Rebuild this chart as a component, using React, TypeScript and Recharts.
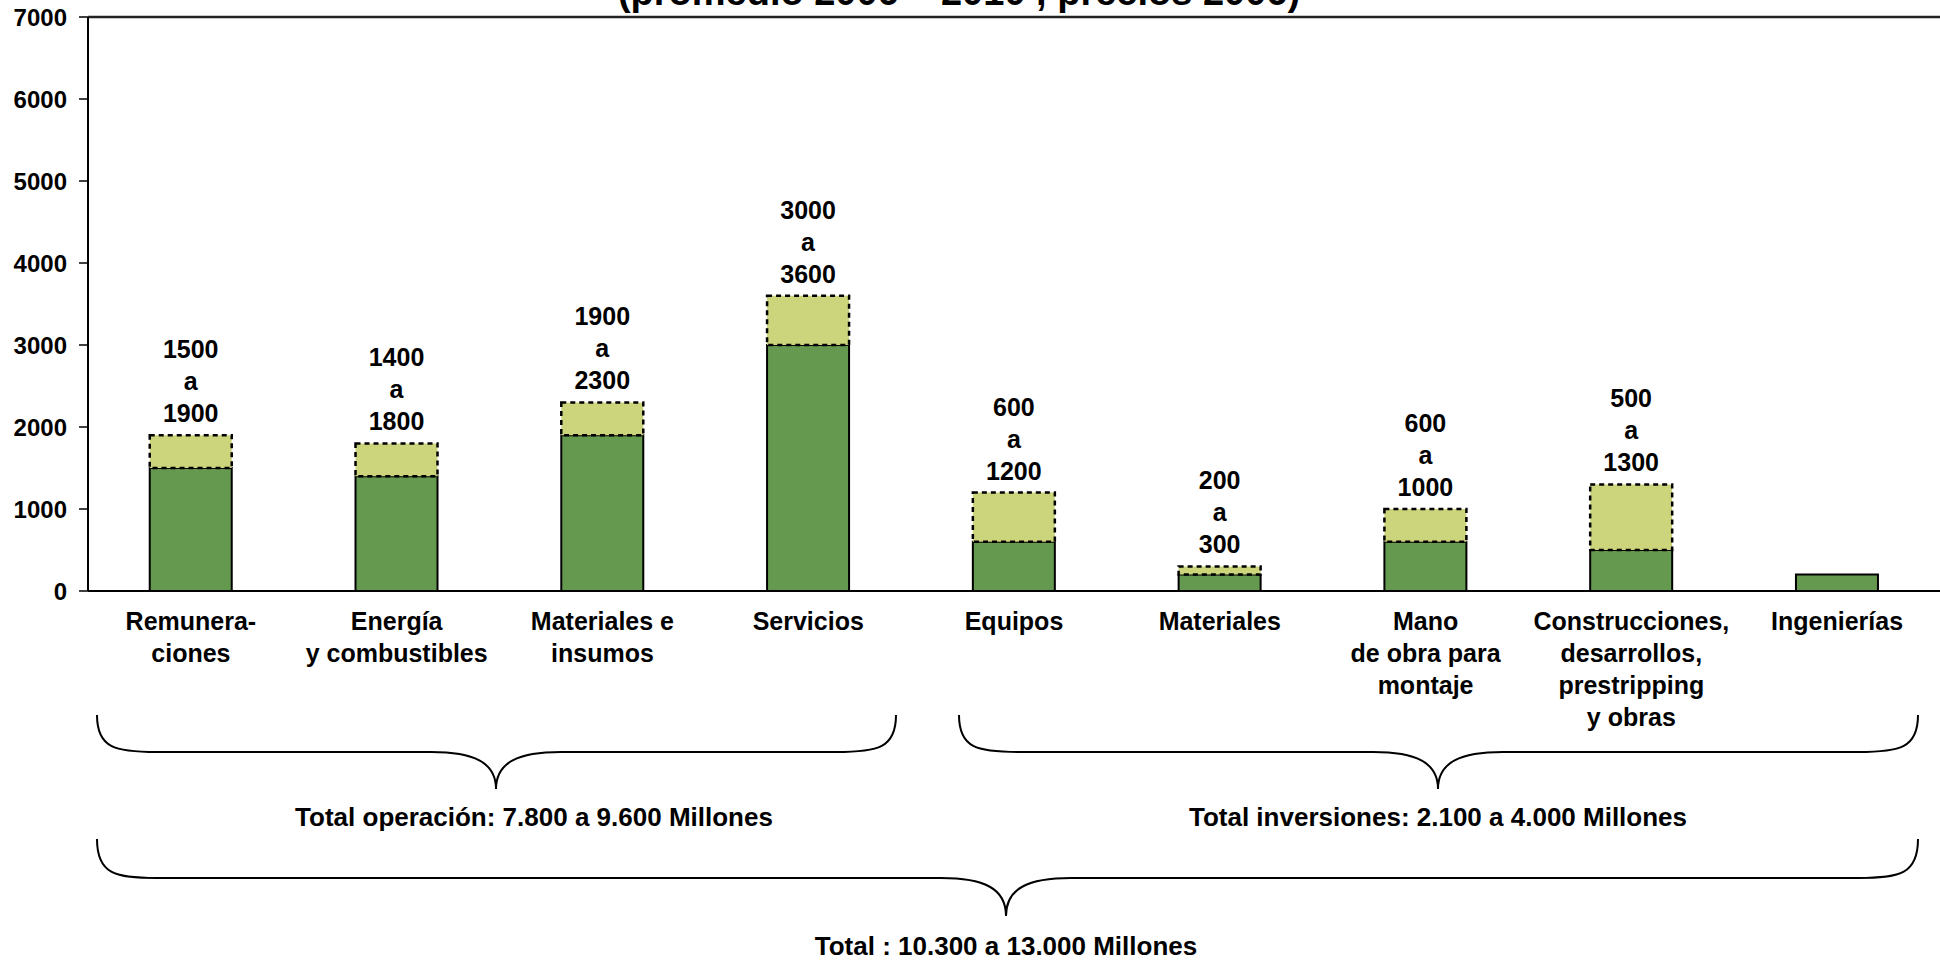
import React from "react";
import { BarChart, Bar, XAxis, YAxis, ReferenceLine, LabelList } from "recharts";

const categories = [
  "Remunera-\nciones",
  "Energía\ny combustibles",
  "Materiales e\ninsumos",
  "Servicios",
  "Equipos",
  "Materiales",
  "Mano\nde obra para\nmontaje",
  "Construcciones,\ndesarrollos,\nprestripping\ny obras",
  "Ingenierías",
];
const lowValues = [1500, 1400, 1900, 3000, 600, 200, 600, 500, 200];
const highValues = [1900, 1800, 2300, 3600, 1200, 300, 1000, 1300, 200];
const yTicks = [0, 1000, 2000, 3000, 4000, 5000, 6000, 7000];

const titleText = "(promedio 2006 – 2010 , precios 2006)";
const totalOperacion = "Total operación: 7.800 a 9.600 Millones";
const totalInversiones = "Total inversiones: 2.100 a 4.000 Millones";
const totalGeneral = "Total : 10.300 a 13.000 Millones";

const data = categories.map((c, i) => ({
  name: c,
  low: lowValues[i],
  range: highValues[i] - lowValues[i],
  high: highValues[i],
}));

const W = 1940;
const H = 960;
const PLOT_LEFT = 88;
const PLOT_TOP = 17;
const AXIS_Y = 591;
const XAXIS_H = 60;
const FONT = "'Liberation Sans', Arial, Helvetica, sans-serif";
const DARK = "#669950";
const LIGHT = "#CCD47C";

const CategoryTick = (props: any) => {
  const { x, y, payload } = props;
  const lines = String(payload.value).split("\n");
  return (
    <text
      x={x}
      y={y}
      textAnchor="middle"
      fontFamily={FONT}
      fontWeight="bold"
      fontSize={25}
      fill="#000"
    >
      {lines.map((l, i) => (
        <tspan key={i} x={x} dy={i === 0 ? 31 : 32}>
          {l}
        </tspan>
      ))}
    </text>
  );
};

const RangeLabel = (props: any) => {
  const { x, y, width, index } = props;
  const lo = lowValues[index];
  const hi = highValues[index];
  const cx = x + width / 2;
  const lines = lo === hi ? [String(hi)] : [String(lo), "a", String(hi)];
  const base = y - 13;
  return (
    <g>
      {lines.map((l, i) => (
        <text
          key={i}
          x={cx}
          y={base - (lines.length - 1 - i) * 32}
          textAnchor="middle"
          fontFamily={FONT}
          fontWeight="bold"
          fontSize={25}
          fill="#000"
        >
          {l}
        </text>
      ))}
    </g>
  );
};

function bracePath(x0: number, x1: number, cx: number, top: number, mid: number, tip: number) {
  const r = 60;
  const c = 65;
  return [
    `M ${x0} ${top}`,
    `C ${x0} ${mid - 4}, ${x0 + r * 0.3} ${mid}, ${x0 + r} ${mid}`,
    `L ${cx - c} ${mid}`,
    `C ${cx - c * 0.35} ${mid}, ${cx} ${mid + 10}, ${cx} ${tip}`,
    `C ${cx} ${mid + 10}, ${cx + c * 0.35} ${mid}, ${cx + c} ${mid}`,
    `L ${x1 - r} ${mid}`,
    `C ${x1 - r * 0.3} ${mid}, ${x1} ${mid - 4}, ${x1} ${top}`,
  ].join(" ");
}

const Overlay = () => {
  return (
    <svg
      width={W}
      height={H}
      style={{ position: "absolute", left: 0, top: 0, pointerEvents: "none" }}
    >
      <text
        x={959}
        y={5}
        textAnchor="middle"
        fontFamily={FONT}
        fontWeight="bold"
        fontSize={38}
        fill="#000"
      >
        {titleText}
      </text>
      <path d={bracePath(97, 896, 496, 715, 752, 789)} fill="none" stroke="#000" strokeWidth={2} />
      <path d={bracePath(959, 1918, 1438, 715, 752, 789)} fill="none" stroke="#000" strokeWidth={2} />
      <path d={bracePath(97, 1918, 1006, 839, 878, 916)} fill="none" stroke="#000" strokeWidth={2} />
      <text x={534} y={826} textAnchor="middle" fontFamily={FONT} fontWeight="bold" fontSize={26} fill="#000">
        {totalOperacion}
      </text>
      <text x={1438} y={826} textAnchor="middle" fontFamily={FONT} fontWeight="bold" fontSize={26} fill="#000">
        {totalInversiones}
      </text>
      <text x={1006} y={955} textAnchor="middle" fontFamily={FONT} fontWeight="bold" fontSize={26} fill="#000">
        {totalGeneral}
      </text>
    </svg>
  );
};

export default function App() {
  return (
    <div style={{ position: "absolute", left: 0, top: 0, width: W, height: H, background: "#fff", overflow: "hidden" }}>
      <BarChart
        width={W}
        height={H}
        data={data}
        margin={{ top: PLOT_TOP, right: 0, left: 0, bottom: H - AXIS_Y - XAXIS_H }}
        barCategoryGap="30%"
      >
        <ReferenceLine y={7000} stroke="#222" strokeWidth={2.5} ifOverflow="extendDomain" />
        <XAxis
          dataKey="name"
          height={XAXIS_H}
          tickLine={false}
          axisLine={{ stroke: "#000", strokeWidth: 2 }}
          tick={<CategoryTick />}
          interval={0}
        />
        <YAxis
          width={PLOT_LEFT}
          domain={[0, 7000]}
          ticks={yTicks}
          interval={0}
          tickSize={9}
          tickMargin={12}
          axisLine={{ stroke: "#000", strokeWidth: 2 }}
          tickLine={{ stroke: "#000", strokeWidth: 1.5 }}
          tick={{ fontFamily: FONT, fontWeight: "bold", fontSize: 24, fill: "#000" }}
        />
        <Bar dataKey="low" stackId="a" fill={DARK} stroke="#000" strokeWidth={2} isAnimationActive={false} />
        <Bar
          dataKey="range"
          stackId="a"
          fill={LIGHT}
          stroke="#000"
          strokeWidth={2.5}
          strokeDasharray="5 4"
          isAnimationActive={false}
        >
          <LabelList dataKey="high" content={<RangeLabel />} />
        </Bar>
      </BarChart>
      <Overlay />
    </div>
  );
}
